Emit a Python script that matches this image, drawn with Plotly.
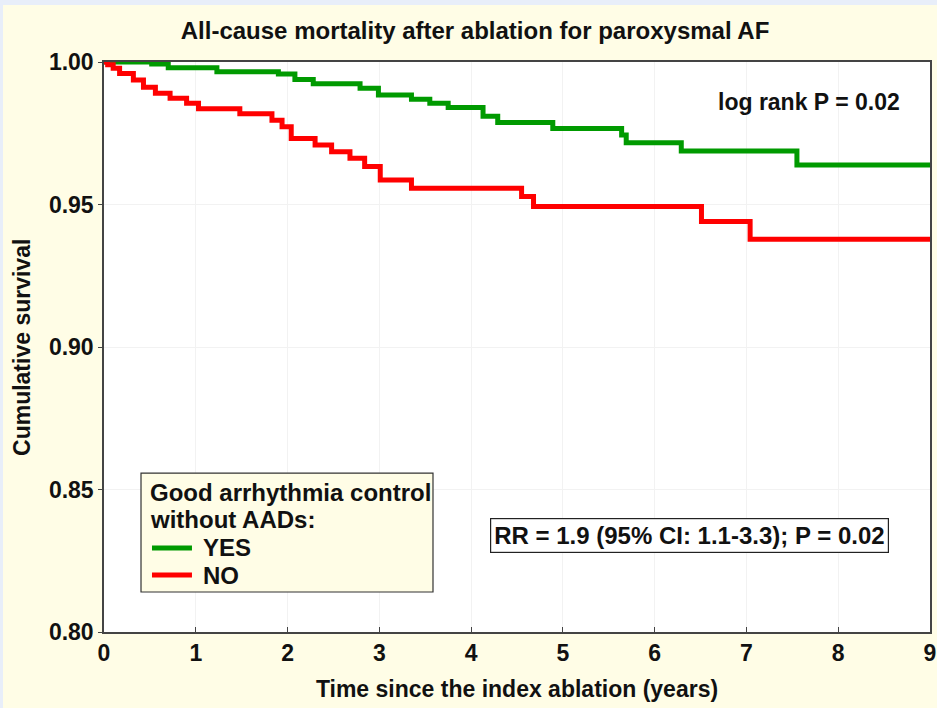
import plotly.graph_objects as go

# Kaplan-Meier steps (years, cumulative survival)
yes_t = [0, 0.52, 0.70, 1.23, 1.90, 2.08, 2.28, 2.79, 2.99, 3.35, 3.55, 3.75, 4.13, 4.29,
         4.89, 5.64, 5.69, 6.29, 7.55, 9.0]
yes_s = [1.0, 0.9993, 0.998, 0.9966, 0.9958, 0.9939, 0.9924, 0.9908, 0.9884, 0.9869, 0.9855,
         0.984, 0.981, 0.9788, 0.9767, 0.9744, 0.9717, 0.9688, 0.9639, 0.9639]

no_t = [0, 0.04, 0.10, 0.17, 0.32, 0.43, 0.56, 0.72, 0.90, 1.03, 1.48, 1.83, 1.94, 2.04,
        2.30, 2.48, 2.68, 2.84, 3.01, 3.35, 4.55, 4.68, 6.51, 7.04, 9.0]
no_s = [1.0, 0.999, 0.9978, 0.996, 0.9937, 0.9911, 0.989, 0.9873, 0.9855, 0.9836, 0.9818,
        0.9796, 0.9773, 0.9732, 0.9709, 0.9685, 0.9662, 0.9633, 0.9586, 0.9557, 0.9528,
        0.9493, 0.944, 0.9378, 0.9378]

x_ticks = [0, 1, 2, 3, 4, 5, 6, 7, 8, 9]
y_ticks = [0.80, 0.85, 0.90, 0.95, 1.00]

FONT = "Arial, Liberation Sans, sans-serif"
CREAM = "#fffde6"
BLUE = "#e8eef9"
GREEN = "#009a00"
RED = "#ff0000"

fig = go.Figure()
fig.add_trace(go.Scatter(x=yes_t, y=yes_s, mode="lines", name="YES", line_shape="hv",
                         line=dict(color=GREEN, width=5)))
fig.add_trace(go.Scatter(x=no_t, y=no_s, mode="lines", name="NO", line_shape="hv",
                         line=dict(color=RED, width=5)))


def note(text, x, y, size=24, **kw):
    return dict(text=text, x=x, y=y, xref="paper", yref="paper", showarrow=False,
                yanchor="middle", font=dict(size=size), **kw)


# legend box drawn by hand so the line spacing matches the original
legend_notes = [
    note("<b>Good arrhythmia control</b>", 0.0533, 0.2456, xanchor="left"),
    note("<b>without AADs:</b>", 0.0533, 0.1965, xanchor="left"),
    note("<b>YES</b>", 0.1174, 0.1474, xanchor="left"),
    note("<b>NO</b>", 0.1174, 0.1, xanchor="left"),
]
legend_shapes = [
    dict(type="rect", xref="paper", yref="paper", x0=0.0448, x1=0.3983, y0=0.0702, y1=0.2789,
         fillcolor=CREAM, line=dict(color="#333", width=1.2)),
    dict(type="line", xref="paper", yref="paper", x0=0.0581, x1=0.1065, y0=0.1474, y1=0.1474,
         line=dict(color=GREEN, width=5)),
    dict(type="line", xref="paper", yref="paper", x0=0.0581, x1=0.1065, y0=0.1, y1=0.1,
         line=dict(color=RED, width=5)),
]

fig.update_layout(
    width=937, height=708,
    margin=dict(l=104, r=7, t=62, b=76),
    paper_bgcolor=CREAM, plot_bgcolor="white",
    font=dict(family=FONT, color="#111", size=23),
    title=dict(text="<b>All-cause mortality after ablation for paroxysmal AF</b>",
               x=0.507, xanchor="center", y=0.957, yanchor="middle",
               font=dict(size=24)),
    showlegend=False,
    annotations=[
        note("<b>Cumulative survival</b>", -0.0993, 0.5, size=23, xanchor="center",
             textangle=-90),
        note("<b>log rank P = 0.02</b>", 0.853, 0.93, size=23, xanchor="center"),
        note("<b>RR = 1.9 (95% CI: 1.1-3.3); P = 0.02</b>", 0.709, 0.170, size=24,
             xanchor="center", bgcolor="white", bordercolor="#222", borderwidth=1.2,
             borderpad=3),
    ] + legend_notes,
    shapes=[
        dict(type="rect", xref="paper", yref="paper", x0=-0.13, x1=-0.1223, y0=-0.15,
             y1=1.12, fillcolor=BLUE, line_width=0, layer="below"),
        dict(type="rect", xref="paper", yref="paper", x0=-0.13, x1=1.01, y0=1.1,
             y1=1.12, fillcolor=BLUE, line_width=0, layer="below"),
    ] + legend_shapes,
)

fig.update_xaxes(
    range=[0, 9], tickvals=x_ticks, ticktext=[f"<b>{v}</b>" for v in x_ticks],
    showline=True, linecolor="#444", linewidth=1.5, mirror=True,
    ticks="inside", ticklen=5, tickcolor="#444",
    showgrid=True, gridcolor="#f2f2f2", zeroline=False,
    tickfont=dict(size=23), automargin=False,
    title=dict(text="<b>Time since the index ablation (years)</b>", font=dict(size=23), standoff=16),
)
fig.update_yaxes(
    range=[0.80, 1.00], tickvals=y_ticks, ticktext=[f"<b>{v:.2f}</b>" for v in y_ticks],
    showline=True, linecolor="#444", linewidth=1.5, mirror=True,
    ticks="outside", ticklen=4, tickcolor="#444",
    showgrid=True, gridcolor="#f2f2f2", zeroline=False,
    tickfont=dict(size=23), automargin=False,
)

fig.write_html("out.html", config={"displayModeBar": False},
               post_script="document.body.style.margin='0';"
                           "document.body.style.background='" + BLUE + "';")
